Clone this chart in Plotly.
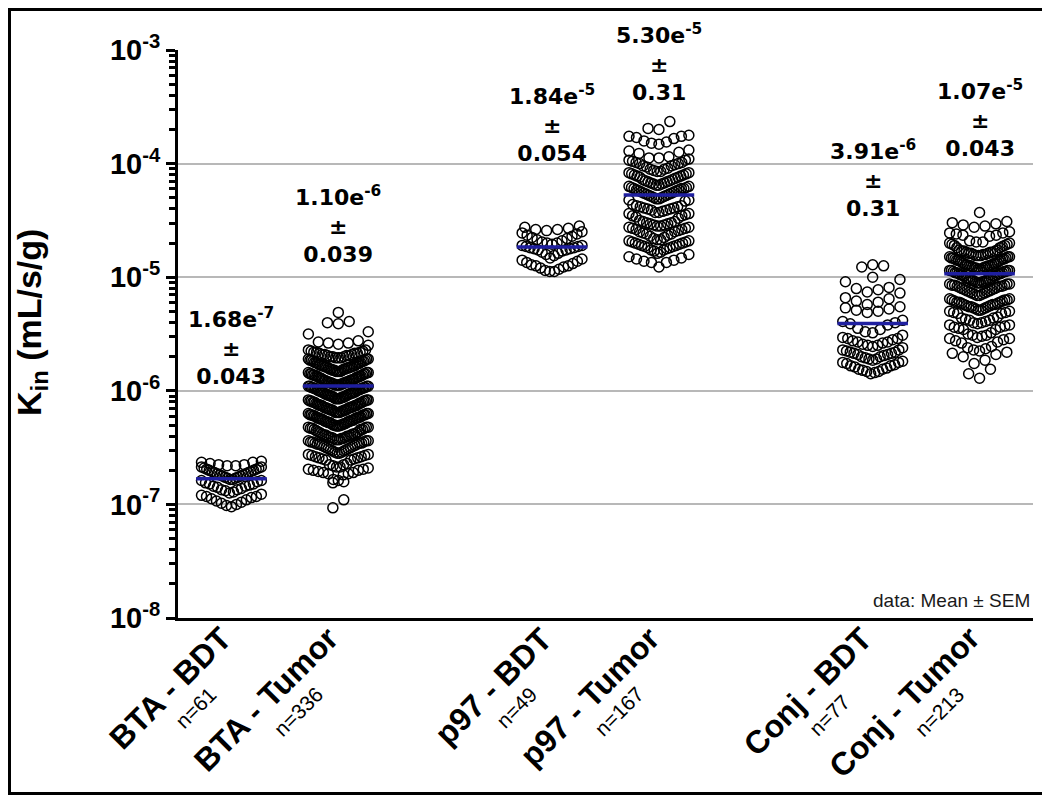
import numpy as np
import plotly.graph_objects as go

# ---------------- data (log10 of Kin, mL/s/g) ----------------
groups = ["BTA - BDT", "BTA - Tumor", "p97 - BDT", "p97 - Tumor", "Conj - BDT", "Conj - Tumor"]
means = [1.68e-7, 1.10e-6, 1.84e-5, 5.30e-5, 3.91e-6, 1.07e-5]
sems = ["0.043", "0.039", "0.054", "0.31", "0.31", "0.043"]

bta_bdt = [
    -7.02, -7.01, -7.00, -6.99, -6.98, -6.97, -6.96, -6.95, -6.94, -6.93, -6.93, -6.92, -6.91,
    -6.90, -6.89, -6.88, -6.87, -6.87, -6.86, -6.85, -6.84, -6.84, -6.83, -6.82, -6.82, -6.81, -6.80,
    -6.79, -6.79, -6.78, -6.78, -6.77, -6.77, -6.76, -6.76, -6.75, -6.75, -6.74, -6.74, -6.73, -6.73,
    -6.72, -6.72, -6.71, -6.71, -6.70, -6.70, -6.69, -6.69,
    -6.68, -6.68, -6.67, -6.67, -6.66, -6.66, -6.65, -6.65, -6.64, -6.63, -6.63, -6.62,
]

bta_tumor = [
    -7.03, -6.96,
    -6.81, -6.80, -6.79, -6.78,
    -6.74, -6.73, -6.73, -6.72, -6.72, -6.71, -6.70, -6.70, -6.69, -6.69, -6.68, -6.67, -6.67,
    -6.66, -6.65, -6.65, -6.64,
    -6.61, -6.61, -6.60, -6.60, -6.59, -6.59, -6.58, -6.58, -6.57, -6.57, -6.56, -6.56, -6.55, -6.55,
    -6.54, -6.54, -6.53, -6.53, -6.52, -6.52, -6.51, -6.51, -6.50, -6.50, -6.49, -6.49, -6.48, -6.48,
    -6.47, -6.47, -6.47, -6.46, -6.46, -6.46, -6.45, -6.45, -6.45, -6.44, -6.44, -6.44, -6.43, -6.43,
    -6.43, -6.42, -6.42, -6.42, -6.41, -6.41, -6.41, -6.40, -6.40, -6.40, -6.39, -6.39, -6.39, -6.38,
    -6.38, -6.38, -6.37, -6.37, -6.36, -6.36, -6.35,
    -6.34, -6.34, -6.34, -6.33, -6.33, -6.33, -6.32, -6.32, -6.32, -6.31, -6.31, -6.31, -6.30, -6.30,
    -6.30, -6.30, -6.29, -6.29, -6.29, -6.28, -6.28, -6.28, -6.27, -6.27, -6.27, -6.27, -6.26, -6.26,
    -6.26, -6.25, -6.25, -6.25, -6.24, -6.24, -6.24, -6.24, -6.23, -6.23, -6.23,
    -6.22, -6.22, -6.22, -6.21, -6.21, -6.21, -6.21, -6.20, -6.20, -6.20, -6.19, -6.19, -6.19, -6.19,
    -6.18, -6.18, -6.18, -6.17, -6.17, -6.17, -6.17, -6.16, -6.16, -6.16, -6.15, -6.15, -6.15, -6.15,
    -6.14, -6.14, -6.14, -6.13, -6.13, -6.13, -6.13, -6.12, -6.12, -6.12, -6.11, -6.11, -6.11,
    -6.10, -6.10, -6.10, -6.09, -6.09, -6.09, -6.09, -6.08, -6.08, -6.08, -6.07, -6.07, -6.07, -6.07,
    -6.06, -6.06, -6.06, -6.05, -6.05, -6.05, -6.05, -6.04, -6.04, -6.04, -6.03, -6.03, -6.03, -6.03,
    -6.02, -6.02, -6.02, -6.01, -6.01, -6.01, -6.01, -6.00, -6.00, -6.00, -5.99, -5.99, -5.99,
    -5.98, -5.98, -5.98, -5.98, -5.97, -5.97, -5.97, -5.97, -5.96, -5.96, -5.96, -5.96, -5.95, -5.95,
    -5.95, -5.95, -5.94, -5.94, -5.94, -5.94, -5.93, -5.93, -5.93, -5.93, -5.92, -5.92, -5.92, -5.92,
    -5.91, -5.91, -5.91, -5.91, -5.90, -5.90, -5.90, -5.89, -5.89, -5.89, -5.88, -5.88, -5.88,
    -5.87, -5.87, -5.87, -5.87, -5.86, -5.86, -5.86, -5.85, -5.85, -5.85, -5.85, -5.84, -5.84, -5.84,
    -5.83, -5.83, -5.83, -5.83, -5.82, -5.82, -5.82, -5.81, -5.81, -5.81, -5.81, -5.80, -5.80, -5.80,
    -5.79, -5.79, -5.79, -5.79, -5.78, -5.78, -5.78, -5.78, -5.77, -5.77, -5.77,
    -5.76, -5.76, -5.76, -5.75, -5.75, -5.75, -5.74, -5.74, -5.74, -5.73, -5.73, -5.73, -5.72, -5.72,
    -5.72, -5.71, -5.71, -5.71, -5.70, -5.70, -5.70, -5.69, -5.69, -5.69, -5.68, -5.68, -5.68, -5.67,
    -5.67, -5.67, -5.66, -5.66, -5.66, -5.65, -5.65, -5.64, -5.64,
    -5.60, -5.59, -5.58, -5.58, -5.57, -5.56, -5.50, -5.48, -5.41, -5.40, -5.39, -5.31,
]

p97_bdt = [
    -4.55, -4.56, -4.57, -4.58, -4.58, -4.59, -4.60, -4.61, -4.62, -4.63, -4.64, -4.65,
    -4.66, -4.67, -4.68, -4.69, -4.70, -4.70, -4.71, -4.72, -4.72, -4.73, -4.73, -4.74, -4.74,
    -4.75, -4.75, -4.76, -4.76, -4.77, -4.78, -4.79, -4.80, -4.81,
    -4.83, -4.84, -4.85, -4.86, -4.87, -4.88, -4.89, -4.90, -4.90, -4.91, -4.92, -4.93, -4.94,
    -4.95, -4.95,
]

p97_tumor = [
    -3.63, -3.69, -3.70, -3.75, -3.76, -3.76, -3.77, -3.78, -3.80, -3.81, -3.82, -3.83,
    -3.88, -3.89, -3.90, -3.91,
    -3.94, -3.95, -3.95, -3.96, -3.97, -3.97, -3.98, -3.99, -3.99, -4.00, -4.00, -4.01, -4.02,
    -4.02, -4.03,
    -4.04, -4.05, -4.05, -4.06, -4.07, -4.07, -4.08, -4.08, -4.09, -4.09, -4.10, -4.10, -4.11,
    -4.11, -4.12, -4.12, -4.13,
    -4.14, -4.14, -4.15, -4.15, -4.16, -4.16, -4.17, -4.17, -4.18, -4.18, -4.19, -4.19, -4.20,
    -4.20, -4.21, -4.21, -4.22, -4.22, -4.22,
    -4.23, -4.23, -4.24, -4.24, -4.25, -4.25, -4.26, -4.26, -4.27, -4.27, -4.28, -4.28, -4.29,
    -4.29, -4.30, -4.30, -4.31, -4.31, -4.32, -4.32, -4.33,
    -4.36, -4.37, -4.37, -4.38, -4.38, -4.39, -4.39, -4.40, -4.40, -4.41, -4.41, -4.42, -4.43,
    -4.43, -4.44, -4.44, -4.45, -4.46, -4.46, -4.47, -4.48,
    -4.50, -4.51, -4.51, -4.52, -4.52, -4.53, -4.53, -4.54, -4.54, -4.55, -4.55, -4.56, -4.56,
    -4.57, -4.57, -4.58, -4.58, -4.59, -4.60, -4.60, -4.61, -4.62, -4.62, -4.63, -4.64, -4.65,
    -4.66, -4.67, -4.67, -4.68, -4.68, -4.69, -4.69, -4.70, -4.70, -4.71, -4.71, -4.72, -4.72,
    -4.73, -4.73, -4.74, -4.74, -4.75, -4.76, -4.76, -4.77, -4.78, -4.79, -4.80,
    -4.82, -4.83, -4.84, -4.85, -4.86, -4.87, -4.87, -4.91,
]

conj_bdt = [
    -4.89, -4.90, -4.91, -5.00, -5.02, -5.04,
    -5.09, -5.10, -5.11, -5.13, -5.14, -5.18, -5.19, -5.21, -5.22, -5.24,
    -5.26, -5.27, -5.28, -5.29, -5.30, -5.31, -5.38, -5.39, -5.40, -5.41, -5.42,
    -5.45, -5.46, -5.48, -5.49, -5.51,
    -5.53, -5.54, -5.54, -5.55, -5.56, -5.57, -5.57, -5.58, -5.59, -5.60, -5.60, -5.61, -5.62,
    -5.64, -5.64, -5.65, -5.66, -5.66, -5.67, -5.67, -5.68, -5.68, -5.69, -5.70, -5.70,
    -5.71, -5.72, -5.72, -5.73, -5.74, -5.75, -5.75, -5.76, -5.77, -5.78, -5.78, -5.79,
    -5.80, -5.81, -5.81, -5.82, -5.83, -5.83, -5.84, -5.85,
]

conj_tumor = [
    -4.43, -4.51, -4.52, -4.53, -4.54, -4.55, -4.56,
    -4.60, -4.61, -4.61, -4.62, -4.63, -4.63, -4.64,
    -4.68, -4.69, -4.69, -4.70, -4.70, -4.71, -4.71, -4.72, -4.72, -4.73, -4.74, -4.74,
    -4.76, -4.76, -4.77, -4.77, -4.77, -4.78, -4.78, -4.78, -4.79, -4.79, -4.79, -4.80, -4.80,
    -4.80, -4.81, -4.81, -4.81, -4.82, -4.82, -4.82, -4.83, -4.83, -4.83, -4.84, -4.84, -4.84,
    -4.85, -4.85, -4.85, -4.86, -4.86, -4.87, -4.87,
    -4.88, -4.88, -4.88, -4.89, -4.89, -4.89, -4.90, -4.90, -4.90, -4.90, -4.91, -4.91, -4.91,
    -4.92, -4.92, -4.92, -4.93, -4.93, -4.93, -4.94, -4.94, -4.94, -4.94, -4.95, -4.95, -4.95,
    -4.96, -4.96, -4.96, -4.97, -4.97, -4.97, -4.98, -4.98, -4.98, -4.99, -4.99, -4.99,
    -5.01, -5.01, -5.01, -5.02, -5.02, -5.02, -5.03, -5.03, -5.03, -5.04, -5.04, -5.04, -5.05,
    -5.05, -5.05, -5.06, -5.06, -5.06, -5.07, -5.07, -5.07, -5.08, -5.08, -5.08, -5.09, -5.09,
    -5.10, -5.10, -5.11, -5.11, -5.12, -5.12, -5.13, -5.13, -5.14, -5.14, -5.15, -5.15, -5.16,
    -5.16,
    -5.19, -5.19, -5.20, -5.20, -5.20, -5.21, -5.21, -5.22, -5.22, -5.22, -5.23, -5.23, -5.24,
    -5.24, -5.24, -5.25, -5.25, -5.26, -5.26, -5.26, -5.27, -5.27, -5.28, -5.28, -5.29, -5.29,
    -5.30, -5.30, -5.31, -5.31, -5.32, -5.32,
    -5.35, -5.36, -5.36, -5.37, -5.38, -5.38, -5.39, -5.40, -5.40, -5.41, -5.42, -5.42, -5.43,
    -5.44, -5.44, -5.45, -5.46, -5.46,
    -5.49, -5.50, -5.51, -5.51, -5.52, -5.53, -5.54, -5.54, -5.55, -5.56, -5.57, -5.58,
    -5.61, -5.62, -5.63, -5.64, -5.65, -5.66, -5.67, -5.68, -5.70,
    -5.73, -5.76, -5.81, -5.85, -5.89,
]

series = [bta_bdt, bta_tumor, p97_bdt, p97_tumor, conj_bdt, conj_tumor]

# ---------------- layout constants ----------------
positions = [0, 1, 3, 4, 6, 7]          # category slots on the x axis
label_y = [-5.614, -4.532, -3.643, -3.106, -4.127, -3.599]  # log10 position of the "±" line
n_shift = [(-8, -62), (-8, -62), (-8, -62), (-8, -62), (-16, -70), (-8, -62)]
FONT = "Arial, 'Liberation Sans', Helvetica, sans-serif"
FONT_WIDE = "'DejaVu Sans', Verdana, sans-serif"

# the page body has an 8px margin; the figure is sized to fit the 1050x803 window
OFF = 8
W, H = 1050 - OFF, 803 - 2 * OFF
PX0, PX1, PY0, PY1 = 178, 1033, 50, 618       # plot area in window pixels
ML, MR = PX0 - OFF, W - (PX1 - OFF)
MT, MB = PY0 - OFF, H - (PY1 - OFF)
PW, PH = PX1 - PX0, PY1 - PY0


def px(xw):
    return (xw - PX0) / PW


def py(yw):
    return (PY1 - yw) / PH


def swarm_offsets(vals, bw=0.12, step=0.102, half=0.28):
    """Prism-like column scatter: bin by value, spread each row around the centre,
    lowest values in the middle."""
    v = np.asarray(vals, float)
    off = np.zeros(len(v))
    bins = np.floor((v - v.min()) / bw + 1e-9).astype(int)
    for b in np.unique(bins):
        idx = np.where(bins == b)[0]
        idx = idx[np.argsort(v[idx], kind="stable")]
        n = len(idx)
        if n == 1:
            continue
        d = min(step, 2 * half / (n - 1))
        slots = (np.arange(n) - (n - 1) / 2) * d
        order = sorted(range(n), key=lambda k: (round(abs(slots[k]), 6), slots[k]))
        for i, k in enumerate(order):
            off[idx[i]] = slots[k]
    return off


fig = go.Figure()

for pos, vals in zip(positions, series):
    v = np.asarray(vals, float)
    fig.add_trace(go.Scatter(
        x=pos + swarm_offsets(v), y=10 ** v, mode="markers",
        marker=dict(symbol="circle-open", size=10, color="black",
                    line=dict(width=1.5, color="black")),
        hoverinfo="skip", showlegend=False,
    ))

for pos, m in zip(positions, means):
    fig.add_trace(go.Scatter(
        x=[pos - 0.33, pos + 0.33], y=[m, m], mode="lines",
        line=dict(color="#1f1fa0", width=3.5), hoverinfo="skip", showlegend=False,
    ))

annotations = []
for pos, m, s, ly in zip(positions, means, sems, label_y):
    e = int(np.floor(np.log10(m)))
    mant = m / 10 ** e
    annotations.append(dict(
        x=pos, y=ly, xref="x", yref="y", showarrow=False,
        text=f"{mant:.2f}e<sup>{e}</sup><br>±<br>{s}",
        font=dict(family=FONT_WIDE, size=22, color="black", weight="bold"),
        xanchor="center", yanchor="middle", align="center",
    ))

# rotated category labels
for pos, name, vals, (nx, ny) in zip(positions, groups, series, n_shift):
    annotations.append(dict(
        x=pos, y=0, xref="x", yref="paper", showarrow=False,
        text=name, textangle=-45,
        font=dict(family=FONT, size=32, color="black", weight="bold"),
        xanchor="right", yanchor="top", xshift=10, yshift=1,
    ))
    annotations.append(dict(
        x=pos, y=0, xref="x", yref="paper", showarrow=False,
        text=f"n={len(vals)}", textangle=-45,
        font=dict(family=FONT, size=21, color="black"),
        xanchor="right", yanchor="top", xshift=nx, yshift=ny,
    ))

# y-axis title
annotations.append(dict(
    x=px(31), y=py(323), xref="paper", yref="paper", showarrow=False,
    text="K<sub>in</sub> (mL/s/g)", textangle=-90,
    font=dict(family=FONT, size=34, color="black", weight="bold"),
    xanchor="center", yanchor="middle",
))

annotations.append(dict(
    x=px(1032), y=py(600), xref="paper", yref="paper", showarrow=False,
    text="data: Mean ± SEM", font=dict(family=FONT, size=19, color="#1a1a1a"),
    xanchor="right", yanchor="middle",
))

decades = [1e-8, 1e-7, 1e-6, 1e-5, 1e-4, 1e-3]
fig.update_layout(
    width=W, height=H,
    margin=dict(l=ML, r=MR, t=MT, b=MB, pad=0),
    paper_bgcolor="white", plot_bgcolor="white",
    annotations=annotations,
    xaxis=dict(range=[-0.5, 7.5], showgrid=False, zeroline=False, showticklabels=False,
               ticks="", showline=True, linewidth=3, linecolor="black"),
    yaxis=dict(type="log", range=[-8, -3], tickmode="array", tickvals=decades,
               ticktext=[f"10<sup>{int(np.log10(d))}</sup>" for d in decades],
               tickfont=dict(family=FONT, size=29, color="black", weight="bold"),
               ticks="outside", ticklen=9, tickwidth=3, tickcolor="black",
               showline=True, linewidth=3, linecolor="black",
               showgrid=True, gridcolor="#b8b8b8", gridwidth=1.5, zeroline=False,
               minor=dict(ticks="outside", ticklen=6, tickwidth=2.5, tickcolor="black",
                          dtick="D1", showgrid=False)),
    shapes=[dict(type="rect", xref="paper", yref="paper",
                 x0=px(OFF + 1.5), x1=px(1046.5),
                 y0=py(OFF + H - 1.5), y1=py(OFF + 1.5),
                 line=dict(color="black", width=3), layer="above")],
)

fig.write_html("out.html")
